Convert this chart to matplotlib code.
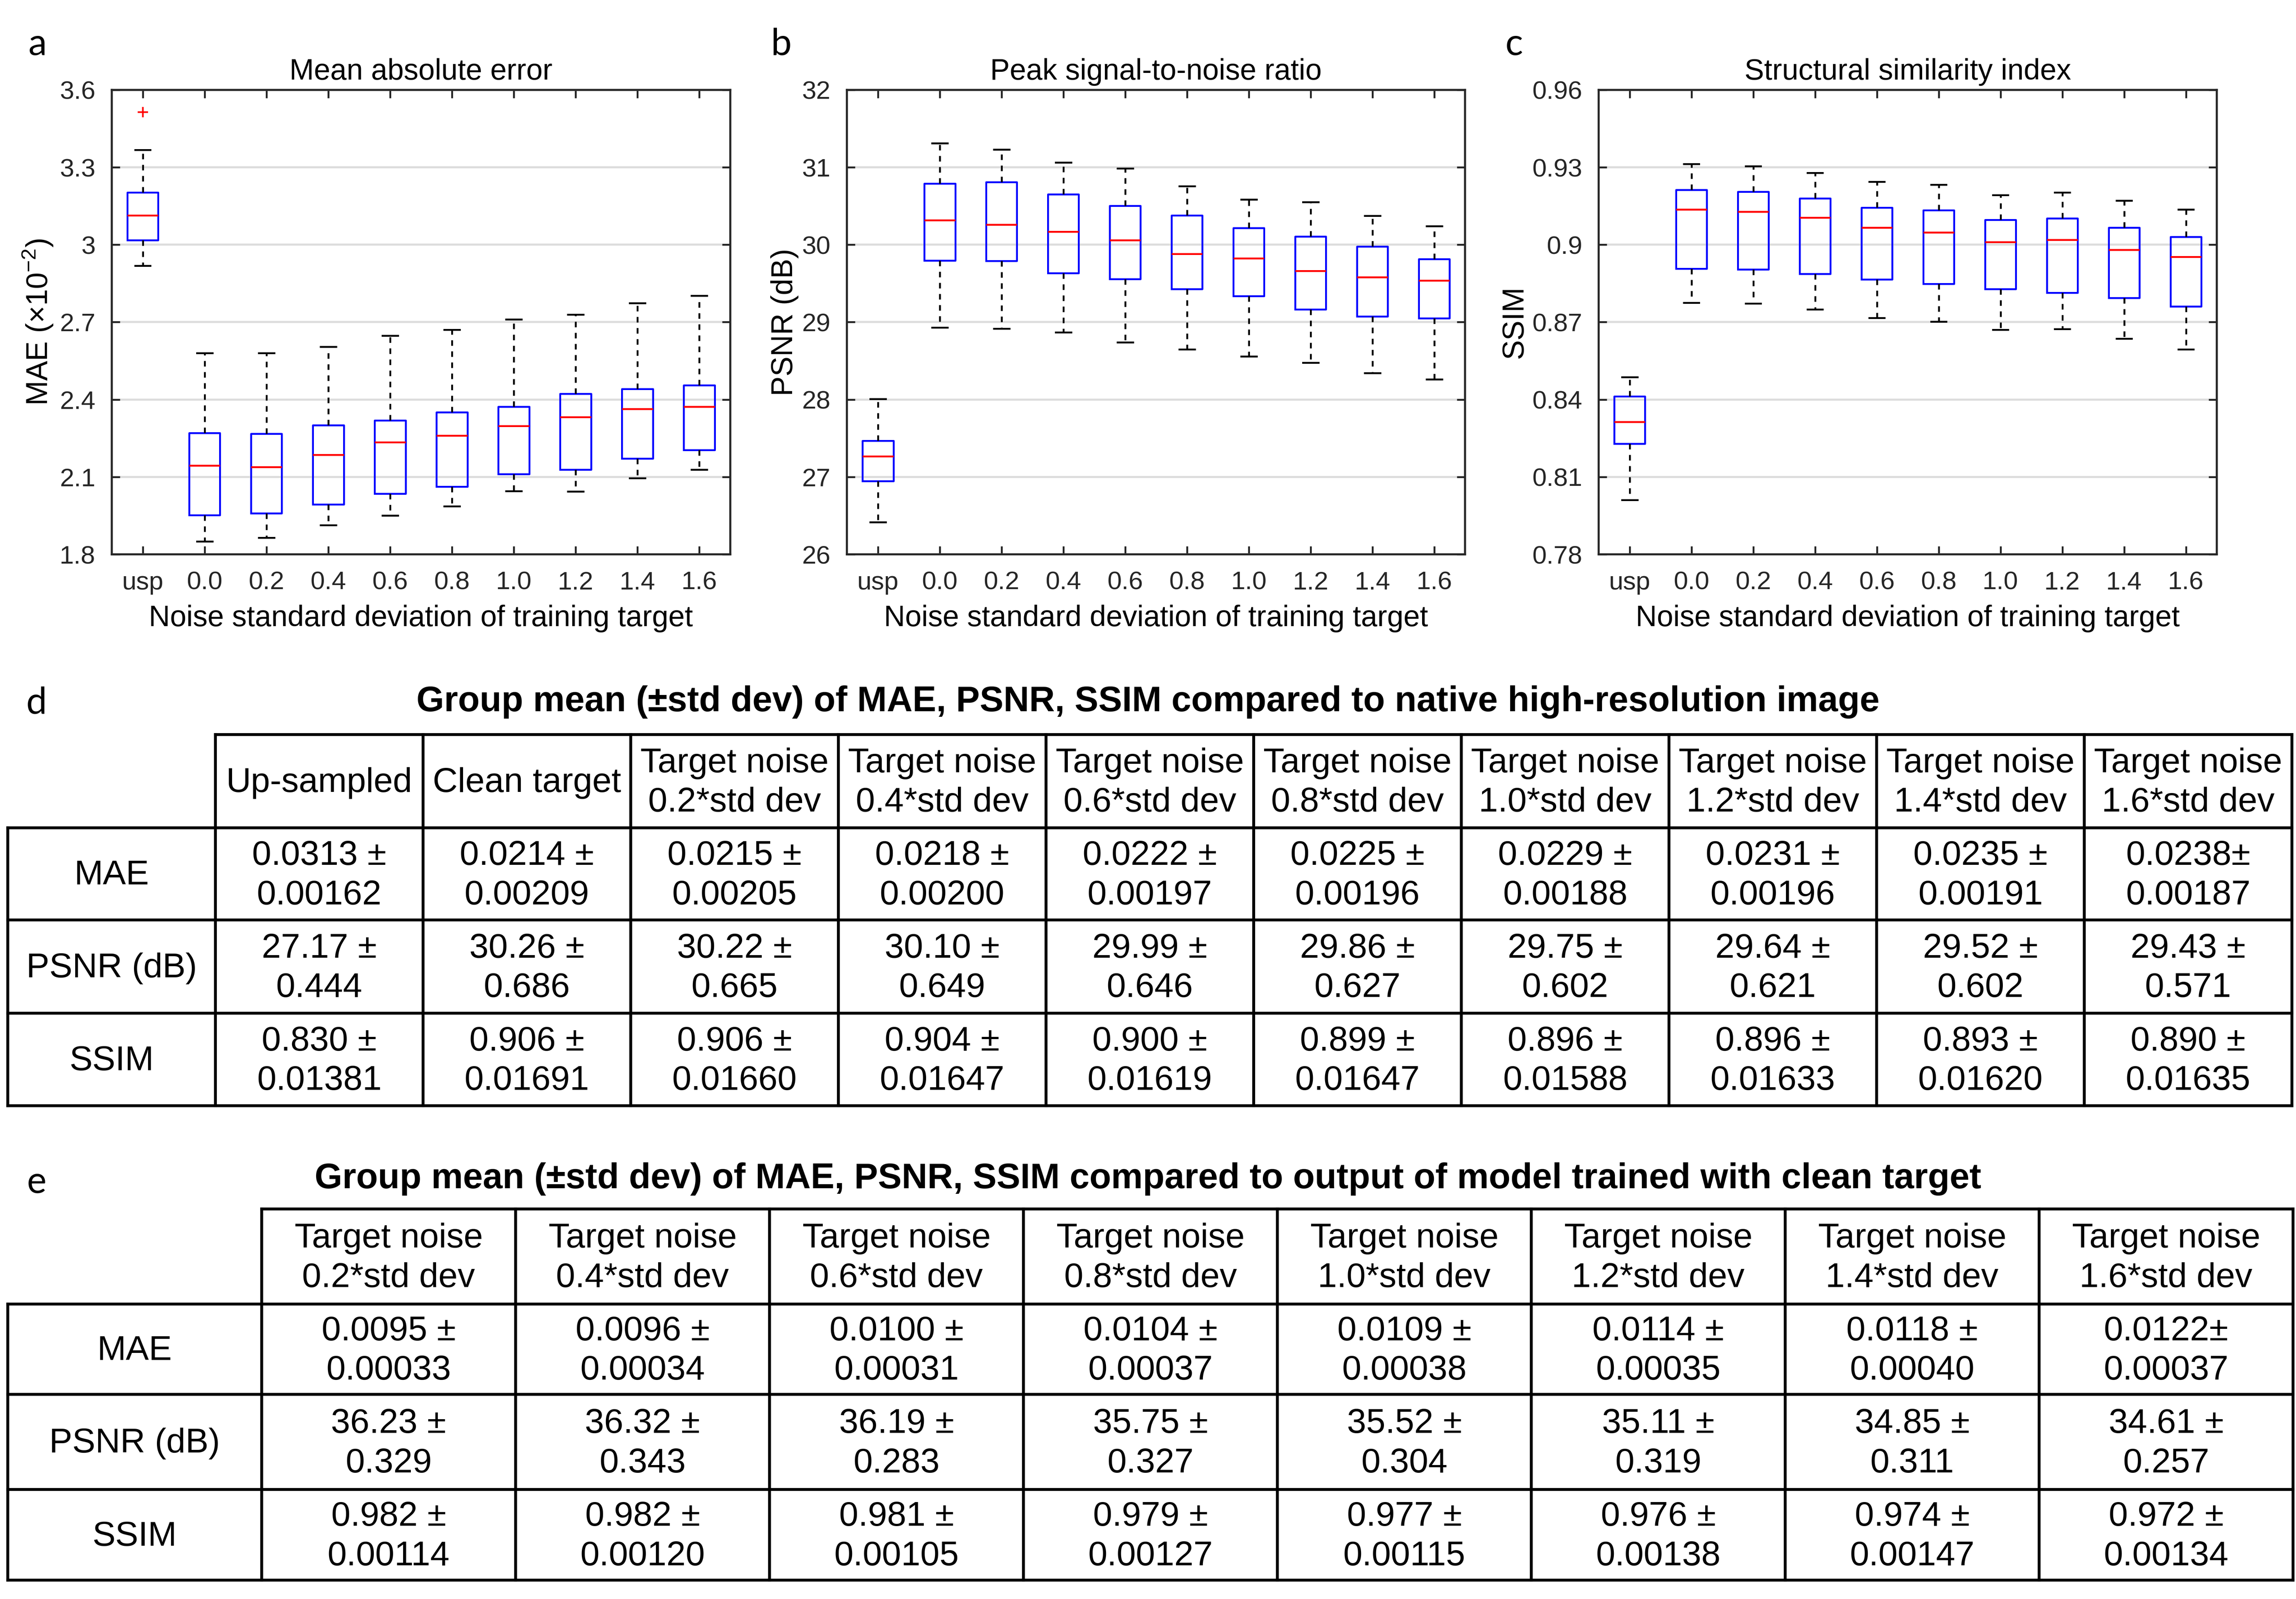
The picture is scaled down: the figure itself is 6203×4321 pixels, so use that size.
import matplotlib
matplotlib.use('Agg')
import matplotlib.pyplot as plt

plt.rcParams['font.family'] = ['Liberation Sans', 'DejaVu Sans']
plt.rcParams['mathtext.fontset'] = 'custom'
plt.rcParams['mathtext.rm'] = 'Liberation Sans'
plt.rcParams['mathtext.it'] = 'Liberation Sans:italic'

groups = ['usp', '0.0', '0.2', '0.4', '0.6', '0.8', '1.0', '1.2', '1.4', '1.6']

# panel a: MAE (x1e-2)
mae_lo = [2.918, 1.851, 1.864, 1.914, 1.951, 1.986, 2.045, 2.044, 2.095, 2.128]
mae_q1 = [3.017, 1.952, 1.960, 1.994, 2.035, 2.063, 2.112, 2.128, 2.172, 2.204]
mae_med = [3.113, 2.144, 2.138, 2.186, 2.234, 2.260, 2.298, 2.332, 2.364, 2.372]
mae_q3 = [3.203, 2.271, 2.268, 2.300, 2.319, 2.351, 2.372, 2.423, 2.441, 2.455]
mae_hi = [3.368, 2.580, 2.580, 2.604, 2.647, 2.671, 2.710, 2.729, 2.774, 2.803]
mae_out = [[3.514], [], [], [], [], [], [], [], [], []]

# panel b: PSNR
psnr_lo = [26.416, 28.931, 28.915, 28.867, 28.738, 28.648, 28.557, 28.477, 28.343, 28.263]
psnr_q1 = [26.945, 29.795, 29.790, 29.635, 29.555, 29.427, 29.336, 29.166, 29.075, 29.048]
psnr_med = [27.265, 30.319, 30.260, 30.169, 30.057, 29.881, 29.822, 29.662, 29.582, 29.539]
psnr_q3 = [27.468, 30.788, 30.810, 30.649, 30.505, 30.377, 30.217, 30.105, 29.977, 29.817]
psnr_hi = [28.007, 31.311, 31.231, 31.060, 30.986, 30.756, 30.585, 30.553, 30.372, 30.238]

# panel c: SSIM
ssim_lo = [0.8011, 0.8775, 0.8772, 0.8750, 0.8716, 0.8702, 0.8671, 0.8673, 0.8636, 0.8594]
ssim_q1 = [0.8229, 0.8907, 0.8905, 0.8887, 0.8865, 0.8849, 0.8828, 0.8814, 0.8794, 0.8761]
ssim_med = [0.8314, 0.9136, 0.9128, 0.9105, 0.9067, 0.9048, 0.9011, 0.9019, 0.8980, 0.8953]
ssim_q3 = [0.8412, 0.9212, 0.9206, 0.9180, 0.9144, 0.9134, 0.9097, 0.9102, 0.9067, 0.9031]
ssim_hi = [0.8487, 0.9313, 0.9305, 0.9278, 0.9244, 0.9233, 0.9193, 0.9203, 0.9171, 0.9137]

# table d
d_cols = ['Up-sampled', 'Clean target'] + ['Target noise\n%s*std dev' % g for g in groups[2:]]
d_mae_m = ['0.0313', '0.0214', '0.0215', '0.0218', '0.0222', '0.0225', '0.0229', '0.0231', '0.0235', '0.0238']
d_mae_s = ['0.00162', '0.00209', '0.00205', '0.00200', '0.00197', '0.00196', '0.00188', '0.00196', '0.00191', '0.00187']
d_psnr_m = ['27.17', '30.26', '30.22', '30.10', '29.99', '29.86', '29.75', '29.64', '29.52', '29.43']
d_psnr_s = ['0.444', '0.686', '0.665', '0.649', '0.646', '0.627', '0.602', '0.621', '0.602', '0.571']
d_ssim_m = ['0.830', '0.906', '0.906', '0.904', '0.900', '0.899', '0.896', '0.896', '0.893', '0.890']
d_ssim_s = ['0.01381', '0.01691', '0.01660', '0.01647', '0.01619', '0.01647', '0.01588', '0.01633', '0.01620', '0.01635']

# table e
e_cols = ['Target noise\n%s*std dev' % g for g in groups[2:]]
e_mae_m = ['0.0095', '0.0096', '0.0100', '0.0104', '0.0109', '0.0114', '0.0118', '0.0122']
e_mae_s = ['0.00033', '0.00034', '0.00031', '0.00037', '0.00038', '0.00035', '0.00040', '0.00037']
e_psnr_m = ['36.23', '36.32', '36.19', '35.75', '35.52', '35.11', '34.85', '34.61']
e_psnr_s = ['0.329', '0.343', '0.283', '0.327', '0.304', '0.319', '0.311', '0.257']
e_ssim_m = ['0.982', '0.982', '0.981', '0.979', '0.977', '0.976', '0.974', '0.972']
e_ssim_s = ['0.00114', '0.00120', '0.00105', '0.00127', '0.00115', '0.00138', '0.00147', '0.00134']

row_names = ['MAE', 'PSNR (dB)', 'SSIM']

W, H = 6203, 4321
DPI = 400
fig = plt.figure(figsize=(W / DPI, H / DPI), dpi=DPI)


def boxpanel(rect, lo, q1, med, q3, hi, fliers, yticks, yticklabels, title, ylabel, ylab_x):
    ax = fig.add_axes(rect)
    stats = []
    for i in range(len(groups)):
        stats.append(dict(whislo=lo[i], q1=q1[i], med=med[i], q3=q3[i], whishi=hi[i],
                          fliers=fliers[i] if fliers else [], label=groups[i]))
    ax.bxp(stats, positions=range(1, len(groups) + 1), widths=0.5, capwidths=0.25,
           boxprops=dict(color='blue', linewidth=0.9),
           medianprops=dict(color='red', linewidth=0.9),
           whiskerprops=dict(color='black', linewidth=0.9, linestyle=(0, (3, 3))),
           capprops=dict(color='black', linewidth=0.9),
           flierprops=dict(marker='+', markeredgecolor='red', markersize=5, markeredgewidth=0.8))
    ax.set_xlim(0.5, len(groups) + 0.5)
    ax.set_ylim(yticks[0], yticks[-1])
    ax.set_yticks(yticks)
    ax.set_yticklabels(yticklabels)
    ax.yaxis.grid(True, color='#dcdcdc', linewidth=1.0)
    ax.set_axisbelow(True)
    ax.tick_params(direction='in', top=True, right=True, labelsize=12.5, pad=8,
                   length=4, width=0.9, colors='#262626')
    for s in ax.spines.values():
        s.set_color('#262626')
        s.set_linewidth(1.0)
    ax.set_title(title, fontsize=14.3, pad=5)
    ax.set_xlabel('Noise standard deviation of training target', fontsize=14.3, labelpad=5)
    ax.set_ylabel(ylabel, fontsize=14.5)
    ax.yaxis.set_label_coords(ylab_x, 0.5)
    return ax


boxpanel([0.0487, 0.6533, 0.2693, 0.2905], mae_lo, mae_q1, mae_med, mae_q3, mae_hi, mae_out,
         [1.8, 2.1, 2.4, 2.7, 3.0, 3.3, 3.6], ['1.8', '2.1', '2.4', '2.7', '3', '3.3', '3.6'],
         'Mean absolute error', 'MAE (×10$^{-2}$)', -0.093)
boxpanel([0.3689, 0.6533, 0.2692, 0.2905], psnr_lo, psnr_q1, psnr_med, psnr_q3, psnr_hi, None,
         [26, 27, 28, 29, 30, 31, 32], ['26', '27', '28', '29', '30', '31', '32'],
         'Peak signal-to-noise ratio', 'PSNR (dB)', -0.078)
boxpanel([0.6963, 0.6533, 0.2692, 0.2905], ssim_lo, ssim_q1, ssim_med, ssim_q3, ssim_hi, None,
         [0.78, 0.81, 0.84, 0.87, 0.90, 0.93, 0.96], ['0.78', '0.81', '0.84', '0.87', '0.9', '0.93', '0.96'],
         'Structural similarity index', 'SSIM', -0.113)

# overlay in pixel coordinates for tables and panel letters
ov = fig.add_axes([0, 0, 1, 1])
ov.set_xlim(0, W)
ov.set_ylim(H, 0)
ov.axis('off')

for lab, (x, y) in zip('abcde', [(102, 120), (2111, 120), (4091, 120), (99, 1900), (99, 3195)]):
    ov.text(x, y, lab, fontsize=18, family=['Lato', 'DejaVu Sans'], ha='center', va='center')

LW = 1.4
FS = 16.8


def draw_table(x0, cw, ys, cols, rows, title, title_y):
    ncol = len(cols) + 1
    xs = [x0 + i * cw for i in range(ncol + 1)]
    ov.text(W / 2, title_y, title, fontsize=17.3, fontweight='bold', ha='center', va='baseline')
    # header top border starts after the empty corner cell
    ov.plot([xs[1], xs[-1]], [ys[0], ys[0]], color='black', lw=LW, solid_capstyle='projecting')
    for y in ys[1:]:
        ov.plot([xs[0], xs[-1]], [y, y], color='black', lw=LW, solid_capstyle='projecting')
    ov.plot([xs[0], xs[0]], [ys[1], ys[-1]], color='black', lw=LW, solid_capstyle='projecting')
    for x in xs[1:]:
        ov.plot([x, x], [ys[0], ys[-1]], color='black', lw=LW, solid_capstyle='projecting')
    for j, c in enumerate(cols):
        ov.text((xs[j + 1] + xs[j + 2]) / 2, (ys[0] + ys[1]) / 2 + 5, c, fontsize=FS,
                ha='center', va='center', linespacing=1.3)
    for i, (name, means, stds) in enumerate(rows):
        yc = (ys[i + 1] + ys[i + 2]) / 2 + 5
        ov.text((xs[0] + xs[1]) / 2, yc, name, fontsize=FS, ha='center', va='center')
        for j in range(len(means)):
            sep = '' if (i == 0 and j == len(means) - 1) else ' '
            ov.text((xs[j + 1] + xs[j + 2]) / 2, yc, means[j] + sep + '±\n' + stds[j],
                    fontsize=FS, ha='center', va='center', linespacing=1.3)


draw_table(21, 561.0, [1985, 2237, 2486, 2738, 2988], d_cols,
           [(row_names[0], d_mae_m, d_mae_s), (row_names[1], d_psnr_m, d_psnr_s),
            (row_names[2], d_ssim_m, d_ssim_s)],
           'Group mean (±std dev) of MAE, PSNR, SSIM compared to native high-resolution image', 1922)
draw_table(21, 686.0, [3267, 3524, 3768, 4025, 4270], e_cols,
           [(row_names[0], e_mae_m, e_mae_s), (row_names[1], e_psnr_m, e_psnr_s),
            (row_names[2], e_ssim_m, e_ssim_s)],
           'Group mean (±std dev) of MAE, PSNR, SSIM compared to output of model trained with clean target', 3211)

fig.savefig('out.png', dpi=DPI)
